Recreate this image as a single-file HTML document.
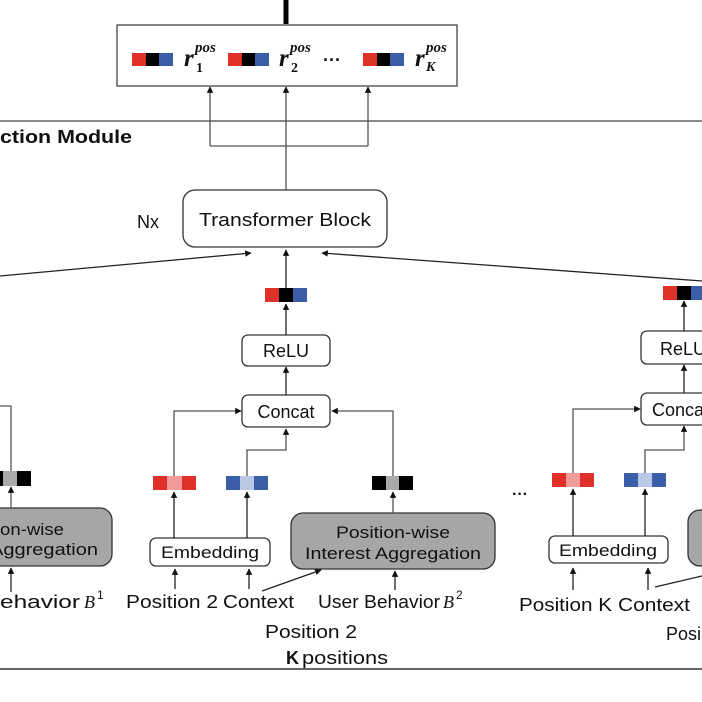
<!DOCTYPE html>
<html><head><meta charset="utf-8"><style>
html,body{margin:0;padding:0;background:#fff;}
svg{display:block;}
text{font-family:"Liberation Sans",sans-serif;fill:#111;}
</style></head><body>
<svg width="702" height="702" viewBox="0 0 702 702" xmlns="http://www.w3.org/2000/svg">
<defs>
<marker id="a" viewBox="0 0 10 10" refX="9" refY="5" markerWidth="5" markerHeight="5" orient="auto"><path d="M0,0L10,5L0,10z" fill="#111"/></marker>
</defs>
<g stroke="#555" stroke-width="1.3" fill="none">
<line x1="286" y1="0" x2="286" y2="24" stroke="#000" stroke-width="5"/>
<rect x="117" y="25" width="340" height="61" stroke="#444"/>
<line x1="0" y1="121" x2="702" y2="121" stroke="#444"/>
<line x1="0" y1="669" x2="702" y2="669" stroke="#666" stroke-width="2"/>
<polyline points="210,146 368,146"/>
<line x1="210" y1="146" x2="210" y2="87" marker-end="url(#a)"/>
<line x1="286" y1="190" x2="286" y2="87" marker-end="url(#a)"/>
<line x1="368" y1="146" x2="368" y2="87" marker-end="url(#a)"/>
<rect x="183" y="190" width="204" height="57" rx="12" stroke="#333"/>
<line x1="0" y1="276" x2="251" y2="253" stroke="#222" marker-end="url(#a)"/>
<line x1="702" y1="281" x2="322" y2="253" stroke="#222" marker-end="url(#a)"/>
<line x1="286" y1="288" x2="286" y2="250" stroke="#222" marker-end="url(#a)"/>
<line x1="286" y1="335" x2="286" y2="304" stroke="#222" marker-end="url(#a)"/>
<rect x="242" y="335" width="88" height="31" rx="6" stroke="#333"/>
<line x1="286" y1="395" x2="286" y2="367" stroke="#222" marker-end="url(#a)"/>
<rect x="242" y="395" width="88" height="32" rx="6" stroke="#333"/>
<polyline points="174,476 174,411 241,411" marker-end="url(#a)"/>
<polyline points="247,476 247,450 286,450 286,429" marker-end="url(#a)"/>
<polyline points="393,476 393,411 332,411" marker-end="url(#a)"/>
<rect x="150" y="538" width="120" height="28" rx="6" stroke="#333"/>
<line x1="174" y1="538" x2="174" y2="492" stroke="#222" marker-end="url(#a)"/>
<line x1="247" y1="538" x2="247" y2="492" stroke="#222" marker-end="url(#a)"/>
<rect x="291" y="513" width="204" height="56" rx="12" fill="#a6a6a6" stroke="#333"/>
<line x1="393" y1="513" x2="393" y2="492" marker-end="url(#a)"/>
<line x1="175" y1="589" x2="175" y2="569" stroke="#222" marker-end="url(#a)"/>
<line x1="249" y1="589" x2="249" y2="569" stroke="#222" marker-end="url(#a)"/>
<line x1="262" y1="591" x2="321" y2="570" stroke="#222" marker-end="url(#a)"/>
<line x1="395" y1="590" x2="395" y2="571" stroke="#222" marker-end="url(#a)"/>
<polyline points="0,406 11,406 11,471"/>
<rect x="-30" y="508" width="142" height="58" rx="12" fill="#a6a6a6" stroke="#333"/>
<line x1="11" y1="508" x2="11" y2="487" marker-end="url(#a)"/>
<line x1="11" y1="592" x2="11" y2="568" stroke="#222" marker-end="url(#a)"/>
<line x1="684" y1="331" x2="684" y2="301" stroke="#222" marker-end="url(#a)"/>
<rect x="641" y="331" width="100" height="33" rx="6" stroke="#333"/>
<line x1="684" y1="393" x2="684" y2="365" stroke="#222" marker-end="url(#a)"/>
<rect x="641" y="393" width="100" height="32" rx="6" stroke="#333"/>
<polyline points="573,473 573,409 640,409" marker-end="url(#a)"/>
<polyline points="645,473 645,450 684,450 684,426" marker-end="url(#a)"/>
<rect x="549" y="536" width="119" height="27" rx="6" stroke="#333"/>
<line x1="573" y1="536" x2="573" y2="489" stroke="#222" marker-end="url(#a)"/>
<line x1="645" y1="536" x2="645" y2="489" stroke="#222" marker-end="url(#a)"/>
<rect x="688" y="510" width="60" height="56" rx="12" fill="#a6a6a6" stroke="#333"/>
<line x1="573" y1="590" x2="573" y2="568" stroke="#222" marker-end="url(#a)"/>
<line x1="648" y1="590" x2="648" y2="568" stroke="#222" marker-end="url(#a)"/>
<line x1="655" y1="587" x2="702" y2="576" stroke="#222"/>
</g>
<g>
<rect x="132" y="53" width="14" height="13" fill="#e0302a"/><rect x="146" y="53" width="13" height="13" fill="#000"/><rect x="159" y="53" width="14" height="13" fill="#3a5ea8"/>
<rect x="228" y="53" width="14" height="13" fill="#e0302a"/><rect x="242" y="53" width="13" height="13" fill="#000"/><rect x="255" y="53" width="14" height="13" fill="#3a5ea8"/>
<rect x="363" y="53" width="14" height="13" fill="#e0302a"/><rect x="377" y="53" width="13" height="13" fill="#000"/><rect x="390" y="53" width="14" height="13" fill="#3a5ea8"/>
<rect x="265" y="288" width="14" height="14" fill="#e0302a"/><rect x="279" y="288" width="14" height="14" fill="#000"/><rect x="293" y="288" width="14" height="14" fill="#3a5ea8"/>
<rect x="663" y="286" width="14" height="14" fill="#e0302a"/><rect x="677" y="286" width="14" height="14" fill="#000"/><rect x="691" y="286" width="14" height="14" fill="#3a5ea8"/>
<rect x="153" y="476" width="14" height="14" fill="#e0302a"/><rect x="167" y="476" width="15" height="14" fill="#f09a9a"/><rect x="182" y="476" width="14" height="14" fill="#e0302a"/>
<rect x="226" y="476" width="14" height="14" fill="#3a5ea8"/><rect x="240" y="476" width="14" height="14" fill="#b9c8e6"/><rect x="254" y="476" width="14" height="14" fill="#3a5ea8"/>
<rect x="372" y="476" width="14" height="14" fill="#000"/><rect x="386" y="476" width="13" height="14" fill="#aaa"/><rect x="399" y="476" width="14" height="14" fill="#000"/>
<rect x="0" y="471" width="3" height="15" fill="#000"/><rect x="3" y="471" width="14" height="15" fill="#aaa"/><rect x="17" y="471" width="14" height="15" fill="#000"/>
<rect x="552" y="473" width="14" height="14" fill="#e0302a"/><rect x="566" y="473" width="14" height="14" fill="#f09a9a"/><rect x="580" y="473" width="14" height="14" fill="#e0302a"/>
<rect x="624" y="473" width="14" height="14" fill="#3a5ea8"/><rect x="638" y="473" width="14" height="14" fill="#b9c8e6"/><rect x="652" y="473" width="14" height="14" fill="#3a5ea8"/>
</g>
<g font-weight="bold" font-style="italic">
<text x="184" y="66" font-size="25" style="font-family:'Liberation Serif',serif">r</text><text x="195" y="52" font-size="15" style="font-family:'Liberation Serif',serif">pos</text><text x="196" y="72" font-size="14" font-style="normal" style="font-family:'Liberation Serif',serif">1</text>
<text x="279" y="66" font-size="25" style="font-family:'Liberation Serif',serif">r</text><text x="290" y="52" font-size="15" style="font-family:'Liberation Serif',serif">pos</text><text x="291" y="72" font-size="14" font-style="normal" style="font-family:'Liberation Serif',serif">2</text>
<text x="415" y="66" font-size="25" style="font-family:'Liberation Serif',serif">r</text><text x="426" y="52" font-size="15" style="font-family:'Liberation Serif',serif">pos</text><text x="426" y="71" font-size="14" style="font-family:'Liberation Serif',serif">K</text>
</g>
<text x="323" y="66" font-size="18" font-weight="bold">···</text>
<text x="0" y="143" font-size="18" font-weight="bold" textLength="132" lengthAdjust="spacingAndGlyphs">ction Module</text>
<text x="137" y="228" font-size="18">Nx</text>
<text x="199" y="226" font-size="18" textLength="172" lengthAdjust="spacingAndGlyphs">Transformer Block</text>
<text x="286" y="357" font-size="18" text-anchor="middle">ReLU</text>
<text x="286" y="418" font-size="18" text-anchor="middle">Concat</text>
<text x="161" y="558" font-size="17" textLength="98" lengthAdjust="spacingAndGlyphs">Embedding</text>
<text x="336" y="538" font-size="17" textLength="114" lengthAdjust="spacingAndGlyphs">Position-wise</text>
<text x="305" y="559" font-size="17" textLength="176" lengthAdjust="spacingAndGlyphs">Interest Aggregation</text>
<text x="0" y="535" font-size="17" textLength="64" lengthAdjust="spacingAndGlyphs">on-wise</text>
<text x="-10" y="555" font-size="17" textLength="108" lengthAdjust="spacingAndGlyphs">Aggregation</text>
<text x="0" y="608" font-size="18" textLength="80" lengthAdjust="spacingAndGlyphs">ehavior</text><text x="84" y="608" font-size="18" font-style="italic" style="font-family:'Liberation Serif',serif">B</text><text x="97" y="599" font-size="12">1</text>
<text x="126" y="608" font-size="18" textLength="92" lengthAdjust="spacingAndGlyphs">Position 2</text>
<text x="223" y="608" font-size="18" textLength="71" lengthAdjust="spacingAndGlyphs">Context</text>
<text x="318" y="608" font-size="18" textLength="122" lengthAdjust="spacingAndGlyphs">User Behavior</text><text x="443" y="608" font-size="18" font-style="italic" style="font-family:'Liberation Serif',serif">B</text><text x="456" y="599" font-size="12">2</text>
<text x="265" y="638" font-size="18" textLength="92" lengthAdjust="spacingAndGlyphs">Position 2</text>
<text x="286" y="664" font-size="18" font-weight="bold">K</text><text x="302" y="664" font-size="18" textLength="86" lengthAdjust="spacingAndGlyphs">positions</text>
<text x="519" y="611" font-size="18" textLength="93" lengthAdjust="spacingAndGlyphs">Position K</text>
<text x="618" y="611" font-size="18" textLength="72" lengthAdjust="spacingAndGlyphs">Context</text>
<text x="666" y="640" font-size="18">Posi</text>
<text x="652" y="416" font-size="18">Concat</text>
<text x="660" y="355" font-size="18">ReLU</text>
<text x="559" y="556" font-size="17" textLength="98" lengthAdjust="spacingAndGlyphs">Embedding</text>
<text x="512" y="499" font-size="16" font-weight="bold">···</text>
</svg>
</body></html>
